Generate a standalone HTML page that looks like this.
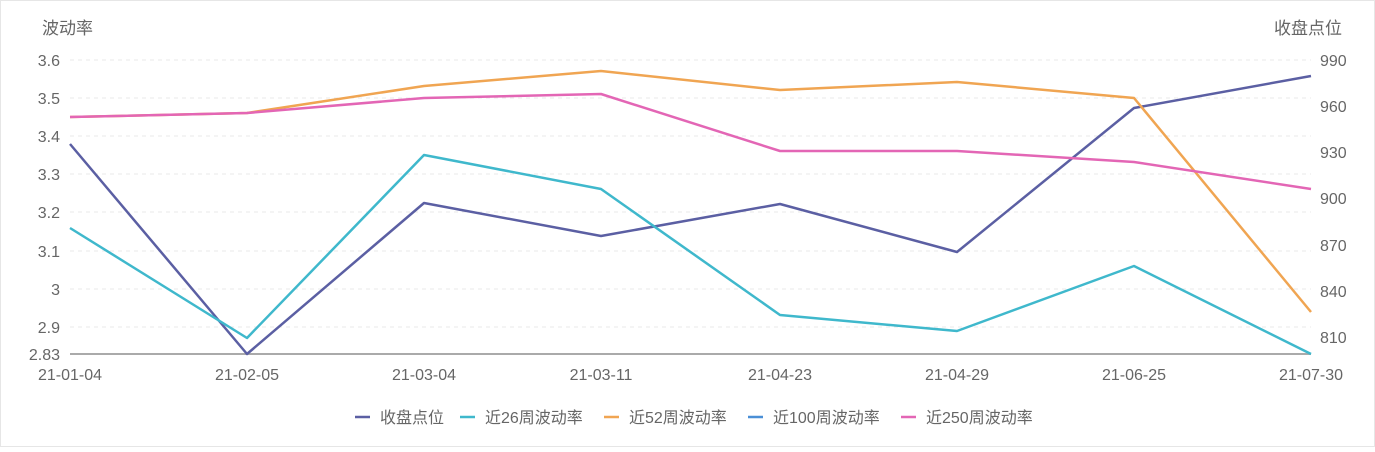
<!DOCTYPE html>
<html><head><meta charset="utf-8"><style>
body{margin:0;background:#fff;}
svg text{font-family:"Liberation Sans","Noto Sans CJK SC",sans-serif;fill:#666;}
</style></head><body>
<svg width="1375" height="447" viewBox="0 0 1375 447" xmlns="http://www.w3.org/2000/svg">
<rect x="0.5" y="0.5" width="1374" height="446" fill="#fff" stroke="#e6e6e6"/>
<g stroke="#e8e8e8" stroke-dasharray="4,4" stroke-width="1">
<line x1="70" x2="1311" y1="60" y2="60"/><line x1="70" x2="1311" y1="98" y2="98"/>
<line x1="70" x2="1311" y1="136" y2="136"/><line x1="70" x2="1311" y1="174" y2="174"/>
<line x1="70" x2="1311" y1="212" y2="212"/><line x1="70" x2="1311" y1="251" y2="251"/>
<line x1="70" x2="1311" y1="289" y2="289"/><line x1="70" x2="1311" y1="327" y2="327"/>
</g>
<line x1="70" x2="1311" y1="354" y2="354" stroke="#aaa" stroke-width="2"/>
<g font-size="16" text-anchor="end">
<text x="60" y="66">3.6</text><text x="60" y="104">3.5</text><text x="60" y="142">3.4</text>
<text x="60" y="180">3.3</text><text x="60" y="218">3.2</text><text x="60" y="257">3.1</text>
<text x="60" y="295">3</text><text x="60" y="333">2.9</text><text x="60" y="360">2.83</text>
</g>
<g font-size="16" text-anchor="start">
<text x="1320" y="66">990</text><text x="1320" y="112">960</text><text x="1320" y="158">930</text>
<text x="1320" y="204">900</text><text x="1320" y="251">870</text><text x="1320" y="297">840</text>
<text x="1320" y="343">810</text>
</g>
<text x="42" y="34" font-size="17">波动率</text>
<text x="1274" y="34" font-size="17">收盘点位</text>
<g font-size="16" text-anchor="middle">
<text x="70" y="380">21-01-04</text><text x="247" y="380">21-02-05</text><text x="424" y="380">21-03-04</text>
<text x="601" y="380">21-03-11</text><text x="780" y="380">21-04-23</text><text x="957" y="380">21-04-29</text>
<text x="1134" y="380">21-06-25</text><text x="1311" y="380">21-07-30</text>
</g>
<g fill="none" stroke-width="2.5" stroke-linejoin="round">
<polyline stroke="#5b5fa3" points="70,144 247,354 424,203 601,236 780,204 957,252 1134,108 1311,76"/>
<polyline stroke="#3fb8cc" points="70,228 247,338 424,155 601,189 780,315 957,331 1134,266 1311,354"/>
<polyline stroke="#f0a552" points="70,117 247,113 424,86 601,71 780,90 957,82 1134,98 1311,312"/>
<polyline stroke="#e366b5" points="70,117 247,113 424,98 601,94 780,151 957,151 1134,162 1311,189"/>
</g>
<g font-size="16">
<line x1="355" x2="370" y1="417" y2="417" stroke="#5b5fa3" stroke-width="2.5"/><text x="380" y="423">收盘点位</text>
<line x1="460" x2="475" y1="417" y2="417" stroke="#3fb8cc" stroke-width="2.5"/><text x="485" y="423">近26周波动率</text>
<line x1="604" x2="619" y1="417" y2="417" stroke="#f0a552" stroke-width="2.5"/><text x="629" y="423">近52周波动率</text>
<line x1="748" x2="763" y1="417" y2="417" stroke="#4a8fd6" stroke-width="2.5"/><text x="773" y="423">近100周波动率</text>
<line x1="901" x2="916" y1="417" y2="417" stroke="#e366b5" stroke-width="2.5"/><text x="926" y="423">近250周波动率</text>
</g>
</svg>
</body></html>
